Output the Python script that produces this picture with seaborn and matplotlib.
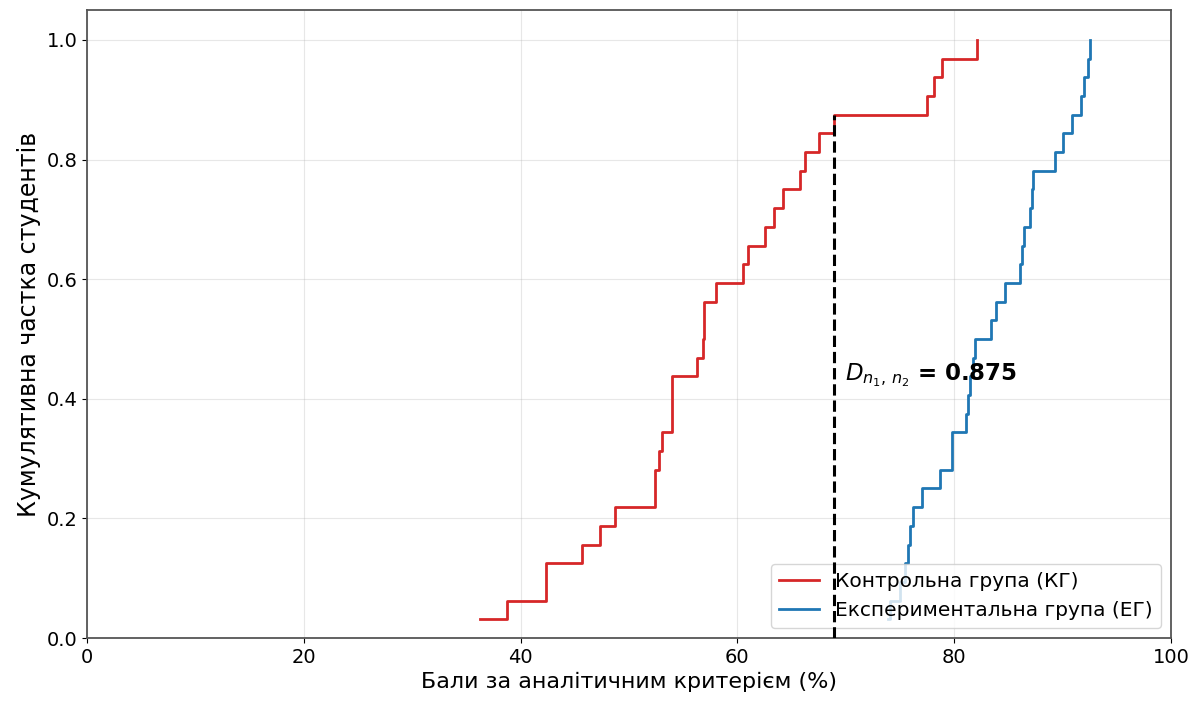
import numpy as np
import pandas as pd
import matplotlib
matplotlib.use("Agg")
import matplotlib.pyplot as plt
import seaborn as sns

# scores (%), 32 students per group
control = [36.3, 38.7, 42.3, 42.3, 45.7, 47.3, 48.7, 52.4, 52.4, 52.8,
           53.0, 54.0, 54.0, 54.0, 56.3, 56.8, 56.9, 56.9, 58.0, 60.5,
           61.0, 62.5, 63.4, 64.2, 65.8, 66.2, 67.5, 68.9, 77.5, 78.1,
           78.9, 82.1]
experimental = [73.9, 74.1, 75.0, 75.5, 75.7, 75.9, 76.2, 77.0, 78.7, 79.8,
                79.8, 81.1, 81.3, 81.5, 81.7, 81.9, 83.4, 83.9, 84.7, 86.1,
                86.3, 86.4, 87.0, 87.2, 87.3, 89.3, 90.0, 90.9, 91.7, 92.0,
                92.3, 92.5]
labels = ["Контрольна група (КГ)", "Експериментальна група (ЕГ)"]
colors = ["#d62728", "#1f77b4"]


def ecdf_frame(values, label):
    v = np.sort(np.asarray(values))
    return pd.DataFrame({"score": v,
                         "frac": np.arange(1, len(v) + 1) / len(v),
                         "group": label})


df = pd.concat([ecdf_frame(control, labels[0]),
                ecdf_frame(experimental, labels[1])], ignore_index=True)

# KS statistic and where it occurs
grid = np.sort(np.r_[control, experimental])
f1 = np.searchsorted(np.sort(control), grid, side="right") / len(control)
f2 = np.searchsorted(np.sort(experimental), grid, side="right") / len(experimental)
idx = np.argmax(np.abs(f1 - f2))
d_x, d_val = grid[idx], np.abs(f1 - f2)[idx]

fig = plt.figure(figsize=(11.99, 7.02), dpi=100)
ax = fig.add_axes([87 / 1199, 1 - 638 / 702, (1171 - 87) / 1199, (638 - 10) / 702])

sns.lineplot(data=df, x="score", y="frac", hue="group", palette=colors,
             estimator=None, sort=False, drawstyle="steps-post",
             linewidth=2, ax=ax)

# dashed line drawn above the legend, as in the original
ax.vlines(d_x, 0, max(f1[idx], f2[idx]), colors="black",
          linestyles="--", linewidth=2.2, zorder=6)
ax.text(d_x + 1, 0.44, r"$D_{n_1,\,n_2}$ = " + f"{d_val:.3f}",
        fontsize=16.5, fontweight="bold", va="center", ha="left")

ax.set_xlim(0, 100)
ax.set_ylim(0, 1.05)
ax.set_xticks([0, 20, 40, 60, 80, 100])
ax.set_yticks([0.0, 0.2, 0.4, 0.6, 0.8, 1.0])
ax.tick_params(labelsize=14)
ax.grid(True, alpha=0.3)
for s in ax.spines.values():
    s.set_color("#555555")
    s.set_linewidth(1.3)

ax.set_xlabel("Бали за аналітичним критерієм (%)", fontsize=16)
ax.set_ylabel("Кумулятивна частка студентів", fontsize=17)
ax.legend(title=None, loc="lower right", fontsize=14.5)

fig.savefig("out.png", dpi=100)
